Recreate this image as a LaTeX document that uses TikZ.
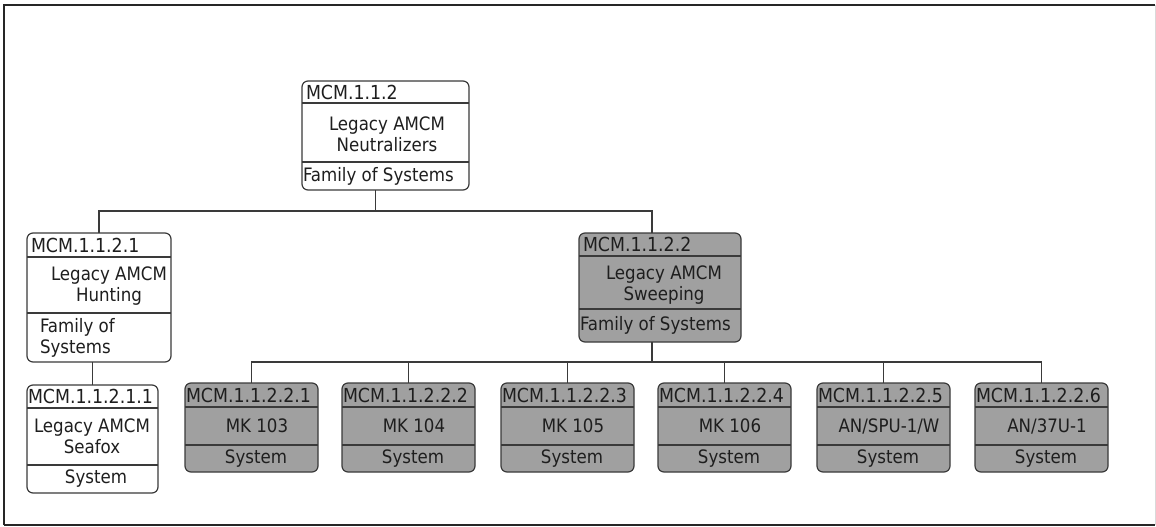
\documentclass[tikz,border=0pt]{standalone}
\usepackage{fontspec}
\setmainfont{DejaVu Sans Condensed}
\begin{document}
\begin{tikzpicture}[x=1pt,y=-1pt,
  rbox/.style={draw=linegray, line width=1.2pt, rounded corners=6pt, inner sep=0pt, outer sep=0pt},
  divline/.style={draw=linegray, line width=1.2pt},
  conn/.style={draw=linegray, line width=1.2pt},
  txt/.style={inner sep=0pt, outer sep=0pt, text=textgray, font=\fontsize{18.5}{21}\selectfont, align=center},
  ttl/.style={txt, anchor=west, font=\fontsize{19.3}{21}\selectfont},
]
\definecolor{linegray}{HTML}{3A3A3A}
\definecolor{textgray}{HTML}{1E1E1E}
\definecolor{boxgray}{HTML}{A0A0A0}
\useasboundingbox (0,0) rectangle (1156,527);
% frame
\draw[line width=1.5pt, draw=black!85] (4,525) -- (4,5) -- (1155,5);
\draw[line width=1.5pt, draw=black!85] (4,525) -- (1155,525);
\draw[line width=1pt, draw=black!15] (1155,5) -- (1155,525);

\newcommand\mkbox[8]{%
  \node[rbox, fill=#2, minimum width={(#5-#3)*1pt}, minimum height={(#6-#4)*1pt}, anchor=north west] (#1) at (#3,#4) {};
  \draw[divline] (#3,#7) -- (#5,#7);
  \draw[divline] (#3,#8) -- (#5,#8);
}

% top
\mkbox{top}{white}{302}{81}{469}{190}{103}{162}
\node[ttl] (top-t) at (306,92) {MCM.1.1.2};
\node[txt] (top-m) at (387,134) {Legacy AMCM\\Neutralizers};
\node[txt, anchor=west] (top-b) at (303,176) {Family of Systems};

% left child
\mkbox{c1}{white}{27}{233}{171}{362}{257}{313}
\node[ttl] (c1-t) at (31,245) {MCM.1.1.2.1};
\node[txt] (c1-m) at (109,286) {Legacy AMCM\\Hunting};
\node[txt, anchor=west, align=left] (c1-b) at (40,338) {Family of\\Systems};

% right child
\mkbox{c2}{boxgray}{579}{233}{741}{342}{256}{309}
\node[ttl] (c2-t) at (583,244.5) {MCM.1.1.2.2};
\node[txt] (c2-m) at (664,285.5) {Legacy AMCM\\Sweeping};
\node[txt, anchor=west] (c2-b) at (580,325.5) {Family of Systems};

% grandchild left
\mkbox{g1}{white}{27}{385}{158}{493}{408}{465}
\node[ttl] (g1-t) at (28,396.5) {MCM.1.1.2.1.1};
\node[txt] (g1-m) at (92,436) {Legacy AMCM\\Seafox};
\node[txt] (g1-b) at (96,479) {System};

% gray systems
\newcommand\sysbox[4]{% name, x1, id, label
  \mkbox{#1}{boxgray}{#2}{383}{#2+133}{472}{407}{445}
  \node[ttl] (#1-t) at (#2+1,395) {#3};
  \node[txt] (#1-m) at (#2+72,426) {#4};
  \node[txt] (#1-b) at (#2+71,458.5) {System};
}
\sysbox{s1}{185}{MCM.1.1.2.2.1}{MK 103}
\sysbox{s2}{342}{MCM.1.1.2.2.2}{MK 104}
\sysbox{s3}{501}{MCM.1.1.2.2.3}{MK 105}
\sysbox{s4}{658}{MCM.1.1.2.2.4}{MK 106}
\sysbox{s5}{817}{MCM.1.1.2.2.5}{AN/SPU-1/W}
\sysbox{s6}{975}{MCM.1.1.2.2.6}{AN/37U-1}

% connectors
\coordinate (topout) at ([xshift=-10pt]top.south);
\coordinate (c2in) at ([xshift=-8pt]c2.north);
\coordinate (c2out) at ([xshift=-8pt]c2.south);
\draw[conn] (topout) -- ++(0,21) -| (c1.north);
\draw[conn] (topout) -- ++(0,21) -| (c2in);
\draw[conn] (g1.north) -- (g1.north |- c1.south);
\foreach \s in {s1,s2,s3,s4,s5,s6}{
  \draw[conn] (c2out) -- ++(0,20) -| (\s.north);
}
\end{tikzpicture}
\end{document}
